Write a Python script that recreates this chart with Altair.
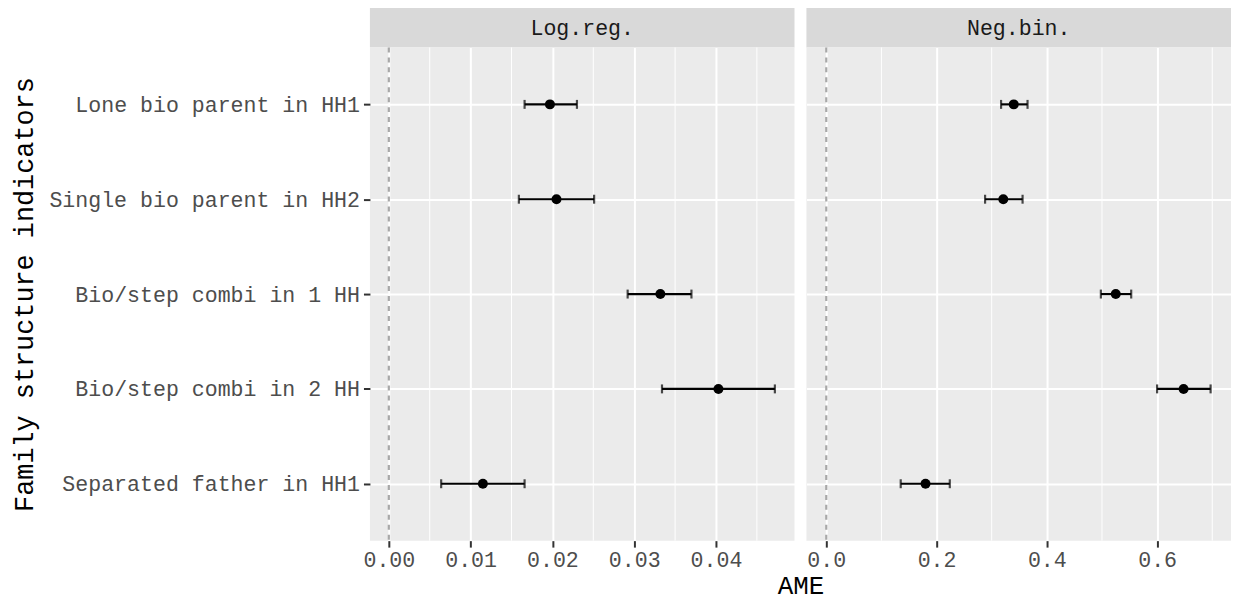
import altair as alt
import pandas as pd

# ---- data ----
categories = [
    "Lone bio parent in HH1",
    "Single bio parent in HH2",
    "Bio/step combi in 1 HH",
    "Bio/step combi in 2 HH",
    "Separated father in HH1",
]
logreg_est = [0.0197, 0.0205, 0.0332, 0.0403, 0.0115]
logreg_lo = [0.0166, 0.0159, 0.0292, 0.0334, 0.0064]
logreg_hi = [0.0230, 0.0251, 0.0370, 0.0472, 0.0166]

negbin_est = [0.340, 0.321, 0.525, 0.648, 0.180]
negbin_lo = [0.317, 0.288, 0.498, 0.600, 0.135]
negbin_hi = [0.365, 0.356, 0.553, 0.697, 0.224]

panel_names = ["Log.reg.", "Neg.bin."]
logreg_major = [0.0, 0.01, 0.02, 0.03, 0.04]
logreg_minor = [0.005, 0.015, 0.025, 0.035, 0.045]
negbin_major = [0.0, 0.2, 0.4, 0.6]
negbin_minor = [0.1, 0.3, 0.5, 0.7]
logreg_domain = [-0.00231, 0.0496]
negbin_domain = [-0.036, 0.734]
ref_line = [0.0]

FONT = "Liberation Mono"
PW, PH, SH = 427, 496, 40
TXT = 21.7
TTL = 27


def panel(est, lo, hi, domain, majors, minors, fmt, left):
    df = pd.DataFrame({"indicator": categories, "est": est, "lo": lo, "hi": hi})
    xs = alt.Scale(domain=domain, nice=False, zero=False)
    if left:
        xaxis = alt.Axis(values=majors, format=fmt, title="", grid=True,
                         gridColor="white", gridWidth=2)
        yaxis = alt.Axis(title="Family structure indicators", titleX=-333.3,
                         titleAngle=270, titleBaseline="bottom", titleAlign="center",
                         grid=True, gridColor="white", gridWidth=2,
                         tickSize=6.5, labelPadding=4, labelLimit=0)
    else:
        xaxis = alt.Axis(values=majors, format=fmt, title="AME", grid=True,
                         gridColor="white", gridWidth=2, titleX=-6, titleY=32,
                         titleFontSize=26, titleBaseline="top", titleAlign="center")
        yaxis = alt.Axis(title="", labels=False, ticks=False, domain=False,
                         grid=True, gridColor="white", gridWidth=2)
    ys = alt.Scale(type="point", padding=0.6)
    y = alt.Y("indicator:N", sort=categories, scale=ys, axis=yaxis)

    minor = alt.Chart(pd.DataFrame({"v": minors})).mark_rule(
        color="white", strokeWidth=1
    ).encode(x=alt.X("v:Q", scale=xs, axis=xaxis))
    zero = alt.Chart(pd.DataFrame({"v": ref_line})).mark_rule(
        color="#A8A8A8", strokeWidth=2.2, strokeDash=[5, 5]
    ).encode(x=alt.X("v:Q", scale=xs, axis=xaxis))
    base = alt.Chart(df)
    bar = base.mark_rule(color="black", strokeWidth=2.2).encode(
        x=alt.X("lo:Q", scale=xs, axis=xaxis), x2="hi:Q", y=y)
    cap_lo = base.mark_tick(color="black", size=9, thickness=2.2).encode(
        x=alt.X("lo:Q", scale=xs, axis=xaxis), y=y)
    cap_hi = base.mark_tick(color="black", size=9, thickness=2.2).encode(
        x=alt.X("hi:Q", scale=xs, axis=xaxis), y=y)
    pt = base.mark_point(filled=True, color="black", size=100, opacity=1).encode(
        x=alt.X("est:Q", scale=xs, axis=xaxis), y=y)
    return alt.layer(minor, zero, bar, cap_lo, cap_hi, pt).properties(
        width=PW, height=PH,
        view=alt.ViewBackground(fill="#EBEBEB", strokeWidth=0),
    )


def strip(name):
    return alt.Chart(pd.DataFrame({"label": [name]})).mark_text(
        font=FONT, fontSize=TXT, color="#1A1A1A", baseline="middle", align="center"
    ).encode(
        text="label:N", x=alt.value(PW / 2), y=alt.value(SH / 2)
    ).properties(
        width=PW, height=SH,
        view=alt.ViewBackground(fill="#D9D9D9", strokeWidth=0),
    )


left_panel = panel(logreg_est, logreg_lo, logreg_hi, logreg_domain,
                   logreg_major, logreg_minor, ".2f", True)
right_panel = panel(negbin_est, negbin_lo, negbin_hi, negbin_domain,
                    negbin_major, negbin_minor, ".1f", False)

chart = alt.concat(
    strip(panel_names[0]), strip(panel_names[1]), left_panel, right_panel,
    columns=2,
).properties(
    spacing={"row": 0, "column": 12},
    bounds="flush",
    padding={"left": 2, "top": -2, "right": 0, "bottom": 2},
).configure_axis(
    labelFont=FONT, labelFontSize=TXT, labelColor="#4D4D4D",
    titleFont=FONT, titleFontSize=TTL, titleColor="black", titleFontWeight="normal",
    tickColor="#333333", tickWidth=2, tickSize=6.5, labelPadding=3,
    domain=False,
).configure_view(strokeWidth=0)

chart.save("out.html", embed_options={"renderer": "svg", "actions": False})
